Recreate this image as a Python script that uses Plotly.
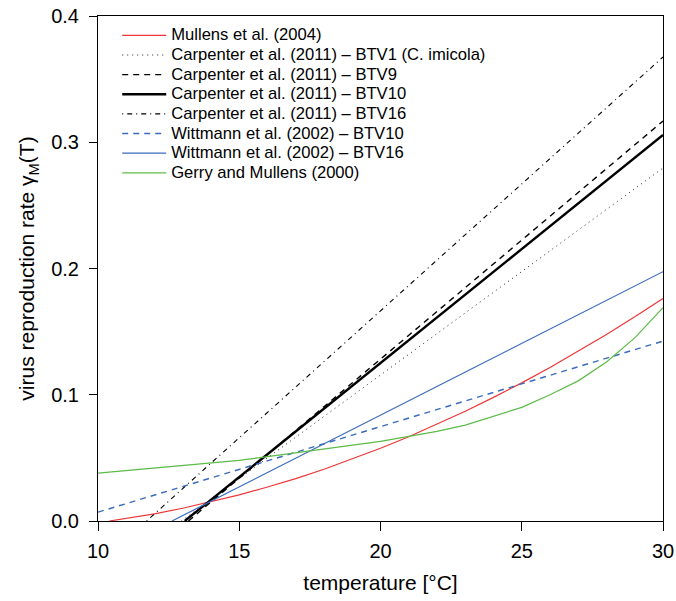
import plotly.graph_objects as go

# ---- data ----
temp_mullens = [10.4, 11, 12, 13, 14, 15, 16, 17, 18, 19, 20, 21, 22, 23, 24, 25, 26, 27, 28, 29, 30]
rate_mullens = [0.0, 0.0020, 0.0057, 0.0101, 0.0151, 0.0207, 0.0269, 0.0336, 0.0410, 0.0490, 0.0576,
                0.0667, 0.0765, 0.0869, 0.0979, 0.1094, 0.1216, 0.1344, 0.1478, 0.1617, 0.1763]

temp_carp_btv1 = [12.95, 30]
rate_carp_btv1 = [0.0, 0.2796]

temp_carp_btv9 = [13.2, 30]
rate_carp_btv9 = [0.0, 0.3168]

temp_carp_btv10 = [13.07, 30]
rate_carp_btv10 = [0.0, 0.3057]

temp_carp_btv16 = [11.72, 30]
rate_carp_btv16 = [0.0, 0.3675]

temp_witt_btv10 = [10, 30]
rate_witt_btv10 = [0.0070, 0.1425]

temp_witt_btv16 = [12.62, 30]
rate_witt_btv16 = [0.0, 0.1975]

temp_gerry = [10, 11, 12, 13, 14, 15, 16, 17, 18, 19, 20, 21, 22, 23, 24, 25, 26, 27, 28, 29, 30]
rate_gerry = [0.038, 0.040, 0.042, 0.044, 0.046, 0.048, 0.051, 0.054, 0.057, 0.060, 0.063,
              0.067, 0.071, 0.076, 0.083, 0.090, 0.100, 0.111, 0.126, 0.145, 0.169]

x_ticks = [10, 15, 20, 25, 30]
y_ticks = [0.0, 0.1, 0.2, 0.3, 0.4]

series = [
    ("Mullens et al. (2004)", temp_mullens, rate_mullens, "#EE3636", 1.2, "solid"),
    ("Carpenter et al. (2011) – BTV1 (C. imicola)", temp_carp_btv1, rate_carp_btv1, "#222222", 1.0, "1px,4px"),
    ("Carpenter et al. (2011) – BTV9", temp_carp_btv9, rate_carp_btv9, "black", 1.4, "6px,5px"),
    ("Carpenter et al. (2011) – BTV10", temp_carp_btv10, rate_carp_btv10, "black", 2.4, "solid"),
    ("Carpenter et al. (2011) – BTV16", temp_carp_btv16, rate_carp_btv16, "black", 1.1, "1px,4px,5px,4px"),
    ("Wittmann et al. (2002) – BTV10", temp_witt_btv10, rate_witt_btv10, "#3A6BBF", 1.4, "6px,5px"),
    ("Wittmann et al. (2002) – BTV16", temp_witt_btv16, rate_witt_btv16, "#3A6BBF", 1.2, "solid"),
    ("Gerry and Mullens (2000)", temp_gerry, rate_gerry, "#5CBB48", 1.2, "solid"),
]

fig = go.Figure()
for name, xs, ys, col, w, dash in series:
    fig.add_trace(go.Scatter(x=xs, y=ys, mode="lines",
                             name='<span style="font-size:16.6px">' + name + '</span>',
                             line=dict(color=col, width=w, dash=dash)))

font_family = "Liberation Sans, Arial, Helvetica, sans-serif"

fig.update_layout(
    width=676, height=601,
    margin=dict(l=98, r=13, t=16, b=80, autoexpand=False),
    paper_bgcolor="white", plot_bgcolor="white",
    font=dict(family=font_family, color="black", size=20),
    showlegend=True,
    legend=dict(x=0.034, y=0.991, xanchor="left", yanchor="top",
                bgcolor="rgba(0,0,0,0)", borderwidth=0,
                font=dict(size=12.8, family=font_family),
                itemwidth=44, tracegroupgap=0),
    xaxis=dict(range=[10, 30], tickvals=x_ticks, ticktext=[str(v) for v in x_ticks],
               showgrid=False, zeroline=False, showline=True, linecolor="black", linewidth=1,
               mirror=True, ticks="outside", ticklen=9, tickcolor="black", tickwidth=1,
               tickfont=dict(size=20), ticklabelstandoff=3, automargin=False,
               title=dict(text="temperature [°C]", font=dict(size=21), standoff=14)),
    yaxis=dict(range=[0, 0.4], tickvals=y_ticks, ticktext=[f"{v:.1f}" for v in y_ticks],
               showgrid=False, zeroline=False, showline=True, linecolor="black", linewidth=1,
               mirror=True, ticks="outside", ticklen=8, tickcolor="black", tickwidth=1,
               tickfont=dict(size=20), ticklabelstandoff=6, automargin=False,
               title=dict(text="virus reproduction rate γ<sub>M</sub>(T)", font=dict(size=21), standoff=10)),
)

fig.write_html("out.html", config={"displayModeBar": False},
               post_script="document.body.style.margin='0';")
